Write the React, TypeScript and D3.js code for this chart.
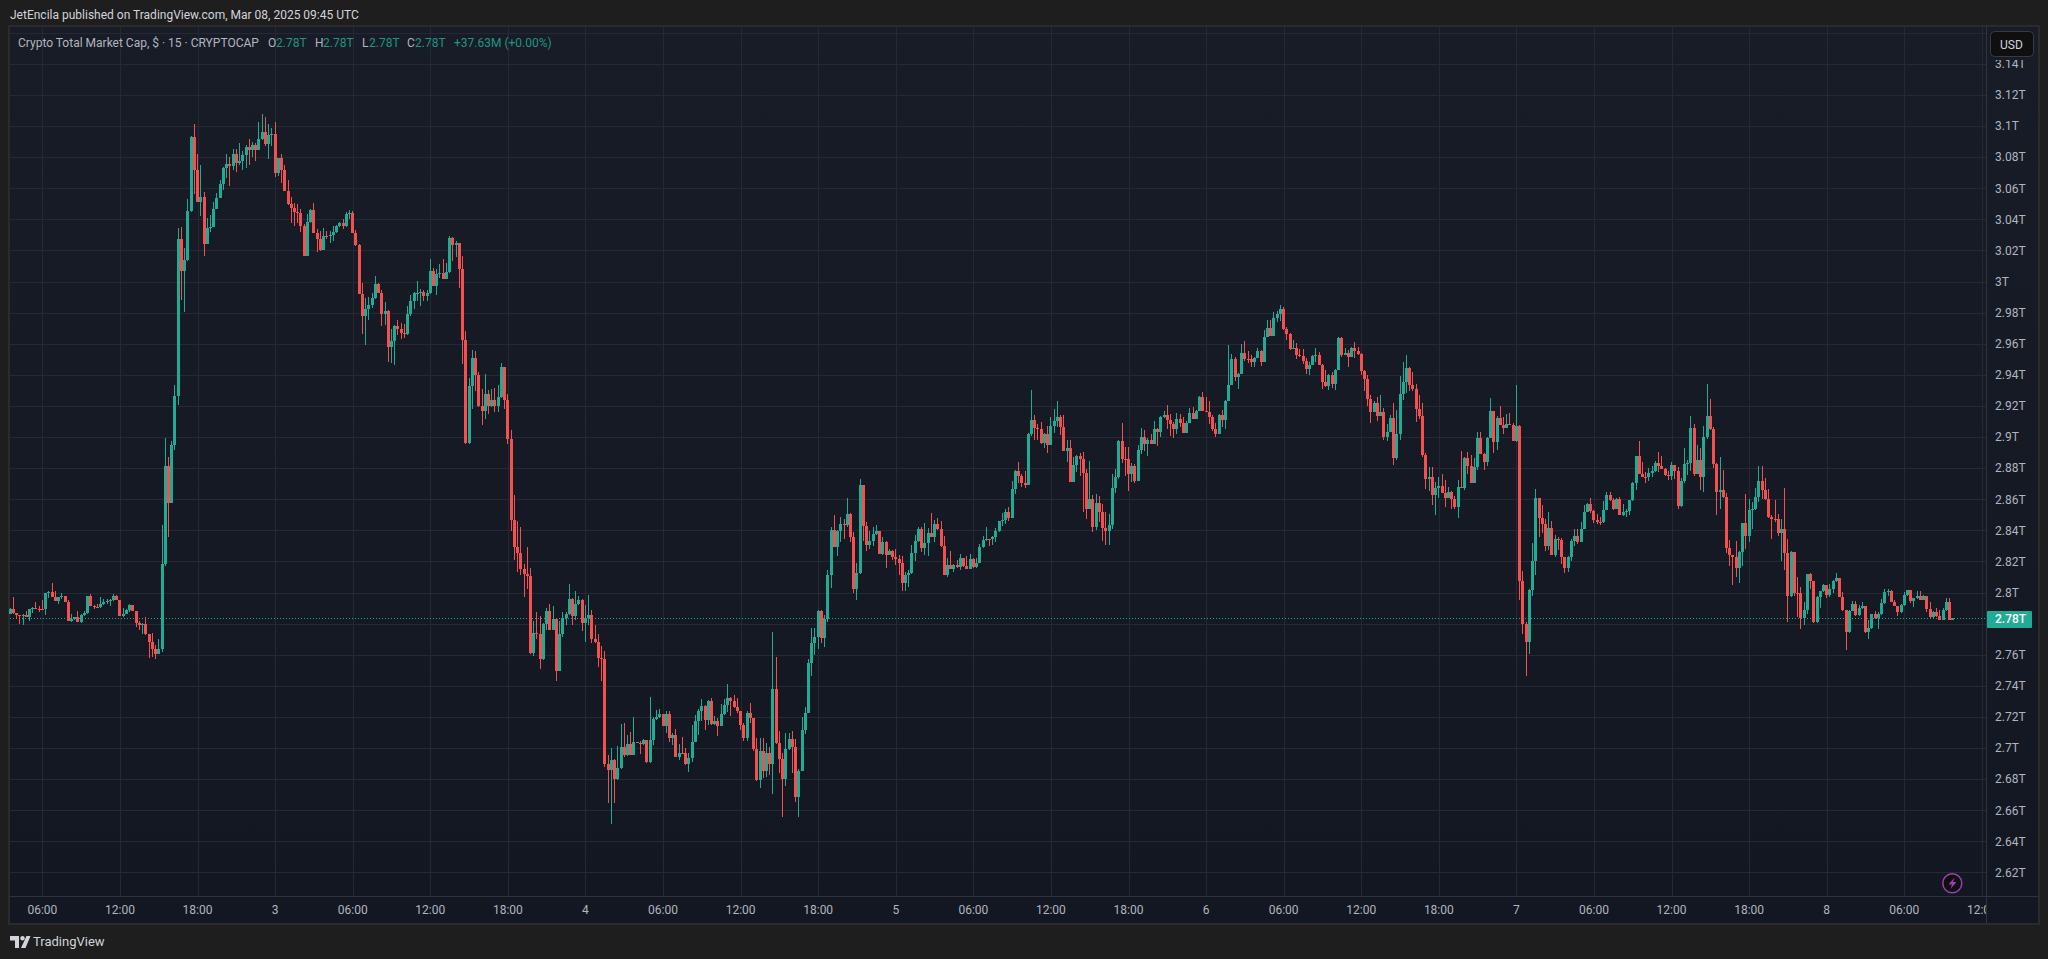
import * as d3 from 'd3';

// 15 minute candles, values in billions of USD. Each candle opens on the close before it.
const firstOpen = 2786.4;
const firstBarTime = Date.UTC(2025, 2, 2, 3, 30);
const barMs = 15 * 60 * 1000;

const closes = [
  2789.7, 2786.9, 2785.5, 2785.1, 2785.7, 2784, 2789.2, 2790.1, 2789.6, 2789.5,
  2789.3, 2799.5, 2800.5, 2797, 2794.7, 2797, 2797.5, 2794.2, 2781.6, 2782.7,
  2784.3, 2781.3, 2785.7, 2786.6, 2797.5, 2791.2, 2790.9, 2790.8, 2792.4, 2794.2,
  2794.7, 2794.9, 2797.5, 2795.2, 2784.8, 2786.4, 2788.5, 2791.7, 2788, 2780.2,
  2778.8, 2780, 2773, 2768.4, 2763.4, 2760.4, 2763.8, 2818.2, 2881.1, 2857.8,
  2894.9, 2926.3, 3027.3, 3007, 3014, 3045.3, 3093, 3071.6, 3051.3, 3054.3,
  3024.3, 3034.7, 3035.2, 3046.7, 3053.8, 3062.4, 3072.7, 3075.7, 3074.1, 3081.7,
  3075.9, 3077.7, 3081.5, 3086.8, 3084.5, 3088, 3084.5, 3091.4, 3096.2, 3088.5,
  3094.3, 3094.6, 3069.5, 3079.1, 3071.6, 3058.4, 3049.7, 3047.1, 3044.8, 3044.3,
  3035.4, 3016.7, 3038.2, 3046.2, 3031.5, 3027.1, 3020.4, 3029.4, 3029.2, 3029.8,
  3031.7, 3035.4, 3037.7, 3035.7, 3043.5, 3044, 3031.4, 3023.6, 2992.1, 2977.5,
  2982.5, 2985, 2989.3, 2998.6, 2992.8, 2979.3, 2981, 2958, 2961.9, 2971.5,
  2969.6, 2967, 2966, 2979.3, 2987.4, 2992.6, 2992.8, 2993, 2990.8, 2992.8,
  3006.9, 2997.3, 3004.8, 3005.4, 3001.8, 3006, 3028.1, 3023.6, 3024.9, 3008.2,
  2962.1, 2896.3, 2933, 2950.8, 2940, 2919.9, 2916.9, 2927.6, 2919.7, 2923.7,
  2919.7, 2925.9, 2945, 2923.5, 2898.9, 2846.7, 2829, 2825.5, 2814.8, 2812.2,
  2810.3, 2761.2, 2773.9, 2773.4, 2757, 2780, 2787.9, 2776, 2783, 2749.6,
  2773.4, 2783.5, 2786, 2796, 2785.2, 2792.5, 2795.3, 2780.5, 2783.5, 2785.6,
  2769.8, 2768, 2757.6, 2757.5, 2689.4, 2685.7, 2692.5, 2680.3, 2687.2, 2700.6,
  2695.3, 2702.6, 2695.7, 2703.9, 2703.2, 2702.8, 2704.9, 2691, 2704.9, 2718.8,
  2719.9, 2722, 2714.2, 2721.7, 2706.5, 2708.2, 2694.3, 2697, 2696.6, 2689.5,
  2693.8, 2704.1, 2717.2, 2723.6, 2726.9, 2717.8, 2730.1, 2715.3, 2717.2, 2714.2,
  2722.1, 2727.5, 2732, 2730.5, 2726.2, 2723.6, 2714.8, 2706.3, 2722.8, 2719.1,
  2699.2, 2679.2, 2698.3, 2685.2, 2697, 2689.5, 2737.8, 2703.5, 2692.8, 2679.9,
  2699.6, 2706, 2700.5, 2668.3, 2685.5, 2711.8, 2722.8, 2754.5, 2767.4, 2771.3,
  2788, 2770.6, 2783.1, 2811.2, 2840.1, 2829.2, 2839.5, 2844, 2843.3, 2850.4,
  2835.6, 2802.1, 2812.4, 2869.1, 2842.7, 2830.5, 2833, 2837.5, 2839.5, 2824.7,
  2832.4, 2824, 2826.6, 2822.7, 2821.5, 2818.9, 2806, 2811.2, 2812.4, 2825.3,
  2833, 2840.8, 2828.5, 2831.7, 2838.2, 2836, 2844, 2840.8, 2829.8, 2811.2,
  2817.6, 2815, 2817.6, 2816.3, 2822.1, 2816.9, 2815, 2821.5, 2816.3, 2819.1,
  2829.2, 2833.8, 2834.4, 2834.2, 2835.7, 2839.4, 2845.8, 2846.4, 2851.6, 2847.9,
  2866.4, 2878.2, 2874.8, 2870.5, 2869.4, 2902.1, 2911.1, 2905.9, 2905.3, 2896.3,
  2902.1, 2895, 2907.2, 2910.5, 2913, 2906.6, 2891.1, 2893.1, 2871.1, 2882.1,
  2887.9, 2886, 2876.9, 2853.7, 2860.2, 2842.1, 2857.6, 2851.8, 2841.5, 2839.6,
  2843.4, 2867.3, 2874.4, 2897.6, 2886, 2885.9, 2876.3, 2881.5, 2871.8, 2891.8,
  2900.1, 2895.6, 2898.2, 2895.6, 2905.3, 2903.4, 2913, 2914.3, 2910.9, 2908.5,
  2905.3, 2911.7, 2909.2, 2902.7, 2909.2, 2915.6, 2911.7, 2916.9, 2925.9, 2916.9,
  2916.3, 2913, 2905.3, 2902.1, 2914.3, 2911.1, 2923.3, 2933.7, 2950.4, 2938.8,
  2940.5, 2954.3, 2950.2, 2950, 2948.5, 2951.1, 2955.6, 2948.5, 2964.6, 2970.4,
  2965.2, 2976.8, 2979.4, 2982, 2969.7, 2966.5, 2956.9, 2957.5, 2953, 2952.1,
  2949.1, 2943.5, 2946.5, 2952.3, 2953, 2946.5, 2935.6, 2933, 2940.1, 2934.3,
  2943.3, 2963.9, 2953, 2954.3, 2951.7, 2957.5, 2955.6, 2953.6, 2942.7, 2937.5,
  2924.6, 2916.3, 2922.1, 2913.7, 2916.3, 2900.1, 2903.2, 2912.2, 2886.6, 2902.1,
  2927.9, 2935.6, 2944.6, 2933.7, 2930.9, 2918.2, 2913.7, 2888.5, 2873.1, 2874.4,
  2862.8, 2867.1, 2868.6, 2864.1, 2860.8, 2864.7, 2860.2, 2855, 2867.9, 2867.5,
  2886.6, 2881.5, 2870.5, 2880.8, 2899.5, 2889.2, 2884, 2899.5, 2916.9, 2896.9,
  2912.4, 2907.9, 2905.9, 2908.5, 2907.9, 2897.6, 2907.2, 2807.3, 2779.6, 2768,
  2801.6, 2820.2, 2860.8, 2847.9, 2844.1, 2829.9, 2841.5, 2824.1, 2834.4, 2833.8,
  2822.8, 2815.7, 2822.8, 2833.1, 2836.3, 2832.5, 2840.9, 2851.8, 2857, 2852.5,
  2846.7, 2845.4, 2845.2, 2853.1, 2862.8, 2859.5, 2853.7, 2860.2, 2849.9, 2851.8,
  2852.4, 2859.3, 2870.2, 2887.6, 2876.3, 2874.3, 2874.1, 2876.9, 2878.2, 2883.3,
  2881.4, 2879.5, 2875.4, 2875.1, 2882.1, 2878.2, 2855.6, 2871.7, 2882.7, 2883.3,
  2905.9, 2876.3, 2885.3, 2874.3, 2900.1, 2913.6, 2905, 2882.7, 2864.7, 2865.9,
  2861.4, 2828.6, 2824.1, 2822.8, 2815.7, 2826, 2844.7, 2836.3, 2853.1, 2853.5,
  2861.4, 2871.7, 2865.9, 2860.1, 2848.5, 2847.3, 2847, 2838.2, 2840.8, 2825.3,
  2797.6, 2826, 2799.6, 2799.5, 2783.5, 2788.6, 2811.6, 2807.3, 2780.9, 2797,
  2800.9, 2804.7, 2798.3, 2802.1, 2807.3, 2809.2, 2797, 2788.6, 2774.4, 2788,
  2792.5, 2785.4, 2789.9, 2791.2, 2774.4, 2777, 2786, 2783.5, 2786, 2793.1,
  2800.2, 2800.9, 2793.8, 2791.2, 2787.3, 2791.8, 2798.3, 2801.5, 2794.4, 2796.3,
  2797.6, 2795.1, 2797.6, 2789.3, 2784.1, 2787.3, 2784.7, 2782.2, 2788.6, 2793.8,
  2782.2, 2783.3,
];

const highs = [
  2790, 2797, 2787, 2785.5, 2786, 2788, 2789.5, 2790.5, 2794.2, 2791.5,
  2794.9, 2799.7, 2801, 2805.8, 2800.7, 2797.2, 2799.5, 2797.7, 2795, 2786.4,
  2784.5, 2787.8, 2785.9, 2787.8, 2797.7, 2798.8, 2792, 2792.9, 2797, 2795.6,
  2795.6, 2795.6, 2798.8, 2798.4, 2795.4, 2790.3, 2789.6, 2792.4, 2791.9, 2788.2,
  2781.8, 2780.4, 2784.1, 2773.4, 2774.2, 2766.1, 2769.8, 2843.3, 2899.3, 2887.1,
  2897.2, 2933.6, 3034.7, 3035.2, 3021.8, 3053.1, 3093.5, 3101, 3081.7, 3075,
  3057.3, 3041.1, 3042.8, 3051.3, 3056.6, 3065.1, 3073.4, 3081.7, 3079.9, 3084.9,
  3085.4, 3088.8, 3084.2, 3088, 3091.4, 3089.8, 3088.9, 3102.7, 3108, 3105.7,
  3101, 3098.5, 3102.4, 3079.3, 3081.7, 3075, 3065.1, 3054.5, 3050.4, 3049.7,
  3046.9, 3037.2, 3043.7, 3046.4, 3050.8, 3033.8, 3032.6, 3034.4, 3032.4, 3032.4,
  3035.8, 3036.6, 3038, 3040, 3045, 3046, 3045.5, 3033.3, 3024, 2999,
  2989.6, 2989.9, 2992.8, 3003.5, 2999.2, 2994.7, 2986.8, 2981.8, 2969.6, 2971.8,
  2975.2, 2973.5, 2972.8, 2984.2, 2991.5, 2993.2, 3000.3, 2995.3, 2994.7, 2994.3,
  3014.6, 3008.6, 3008.2, 3011.4, 3014.6, 3012.1, 3029.2, 3028.8, 3026.2, 3025,
  3016.6, 2968.3, 2938.1, 2956.1, 2955.3, 2941.7, 2931, 2940.7, 2930.4, 2931,
  2931.7, 2933.6, 2947.5, 2945.2, 2927.6, 2904.7, 2862.8, 2846.1, 2842, 2818.5,
  2829.4, 2815.7, 2781.8, 2787.4, 2784.8, 2780.6, 2790, 2792.7, 2791.2, 2783.2,
  2781.8, 2787.4, 2787.4, 2805.6, 2796.2, 2800.9, 2797.7, 2795.5, 2792.1, 2798.5,
  2788.9, 2779.2, 2773.4, 2765.7, 2762.6, 2695.3, 2700, 2692.7, 2701.3, 2715.6,
  2716.3, 2708.6, 2710.3, 2719.9, 2704, 2704.3, 2705.6, 2705, 2732.7, 2720,
  2724.2, 2725.2, 2722, 2723.9, 2723.6, 2709.9, 2712.5, 2702.4, 2707.3, 2700.3,
  2697, 2714.6, 2721.5, 2724.9, 2731.4, 2727.5, 2730.9, 2732, 2720.4, 2719.6,
  2728.1, 2731.4, 2741, 2733.1, 2733.9, 2732, 2724, 2715.9, 2723.6, 2728.8,
  2719.5, 2706.3, 2706.7, 2706.3, 2703.5, 2700.9, 2774.5, 2758.2, 2710.8, 2696.6,
  2709.5, 2709.9, 2710.8, 2706, 2686.3, 2719.8, 2726.2, 2757.5, 2777, 2777,
  2788.6, 2788.6, 2785.4, 2814.4, 2842, 2849.8, 2840.1, 2848.5, 2847.2, 2860.7,
  2851, 2838.6, 2818.9, 2872.9, 2869.3, 2845.3, 2839.5, 2842, 2843.3, 2839.7,
  2835.6, 2833, 2827.9, 2827.2, 2827.9, 2824, 2823.4, 2813.1, 2814.4, 2830.5,
  2836.9, 2842, 2842, 2844.6, 2841.4, 2851, 2846.5, 2847.8, 2845.9, 2836.3,
  2822.1, 2826.6, 2818.2, 2820.8, 2824.7, 2822.3, 2823.4, 2824.7, 2822.1, 2822.1,
  2831.1, 2836.1, 2841.9, 2834.5, 2836.3, 2841.5, 2846, 2851.2, 2853.7, 2854.8,
  2871.8, 2879, 2883.8, 2876.3, 2878, 2902.5, 2930.4, 2914.3, 2908.3, 2909.6,
  2902.5, 2907.2, 2913, 2918.2, 2923.3, 2914.3, 2914.3, 2898.2, 2898.2, 2887,
  2888.5, 2889.8, 2890.5, 2879.5, 2884.5, 2862.8, 2863.4, 2862.1, 2857, 2851.8,
  2850.5, 2876.3, 2879.5, 2898.2, 2909.2, 2893.7, 2893.7, 2883.4, 2882.7, 2895,
  2905.7, 2904.7, 2899.5, 2902.1, 2910.5, 2905.9, 2913.2, 2916.9, 2920.8, 2915,
  2909.8, 2915.6, 2915, 2913, 2910.5, 2918.8, 2919.5, 2917.5, 2926.6, 2929.1,
  2925.9, 2923.3, 2914.3, 2909.2, 2914.6, 2917.5, 2924, 2959.4, 2953.6, 2951.7,
  2941, 2960.1, 2962, 2955.6, 2953, 2951.7, 2957.5, 2955.8, 2968.5, 2975.5,
  2975.5, 2980.7, 2981.3, 2984.6, 2983.3, 2971, 2966.7, 2962.7, 2960.7, 2956.9,
  2956.9, 2951.1, 2948.5, 2953, 2957.5, 2954.9, 2947, 2943.3, 2940.3, 2942,
  2943.5, 2964.2, 2964.2, 2957.5, 2956.2, 2958.1, 2961.4, 2958.1, 2954, 2943,
  2940.1, 2927.2, 2923.3, 2925.9, 2927.2, 2918.8, 2908.5, 2914.3, 2922.1, 2917.5,
  2939.5, 2948.5, 2953, 2944.8, 2942, 2934.3, 2927.2, 2922.1, 2889.8, 2880.8,
  2880.8, 2871.1, 2874.4, 2876.3, 2872.4, 2867.9, 2865.3, 2862.1, 2872.4, 2891.1,
  2887, 2890.5, 2888.5, 2886.6, 2903.4, 2903.4, 2889.5, 2899.8, 2925.3, 2917,
  2913.7, 2920.1, 2913, 2915, 2915.6, 2909.2, 2933.7, 2907.8, 2813.8, 2781,
  2802.2, 2831.8, 2866.6, 2861, 2856.3, 2847.3, 2851.8, 2846, 2837, 2835.7,
  2835.1, 2823, 2823.5, 2834.4, 2840.9, 2840.9, 2845.4, 2856.3, 2857.3, 2860.8,
  2853, 2850.5, 2848.6, 2858.9, 2864.7, 2864.7, 2860.8, 2860.5, 2861.5, 2856.9,
  2853.7, 2859.5, 2870.8, 2888, 2897.5, 2884, 2877.5, 2880.1, 2881.4, 2884.6,
  2890.4, 2887.9, 2879.8, 2878.2, 2884, 2882.3, 2880.8, 2873.7, 2893, 2885.3,
  2913.6, 2908.5, 2894.9, 2893, 2907.2, 2934.3, 2924.6, 2906.5, 2883, 2887.2,
  2878.8, 2864, 2833.7, 2824.4, 2833.1, 2826.6, 2845, 2863.4, 2860.1, 2858.2,
  2867.2, 2881.4, 2881.4, 2873.7, 2866.6, 2849.8, 2859.5, 2850.5, 2847.3, 2867.2,
  2834.4, 2826.6, 2826.2, 2809.9, 2803.4, 2793.8, 2812, 2812.5, 2807.5, 2797.6,
  2801.2, 2805.4, 2805, 2805.4, 2807.9, 2812.5, 2809.5, 2800.2, 2788.8, 2788.6,
  2794.4, 2794.4, 2791.8, 2793.8, 2791.4, 2782.2, 2786.2, 2788, 2787.3, 2795.7,
  2802.1, 2802.1, 2801.5, 2795.1, 2791.4, 2792.5, 2800.2, 2801.8, 2801.7, 2796.6,
  2800.9, 2800.9, 2798.3, 2797.8, 2793.8, 2788, 2789.9, 2788.6, 2789.9, 2796.3,
  2796.3, 2783.4,
];

const lows = [
  2786, 2786, 2783, 2779.8, 2779.3, 2784, 2781.6, 2787, 2789.4, 2787.3,
  2789.1, 2785.7, 2796.5, 2797, 2794.5, 2792.6, 2796.1, 2794, 2781.4, 2781.3,
  2782, 2781.1, 2780.4, 2785, 2785.9, 2791, 2789.4, 2789.9, 2790.3, 2791.9,
  2792.6, 2791.2, 2794.7, 2795, 2784.6, 2784.1, 2786, 2787.6, 2787.8, 2778.1,
  2775.8, 2773.5, 2772.8, 2757.6, 2758.8, 2757.4, 2760.2, 2762, 2816.8, 2835.9,
  2857.6, 2891.9, 2920.4, 2988.4, 2980.6, 3013.5, 3045, 3056.1, 3051, 3042.3,
  3016.7, 3024, 3031.7, 3035, 3046.5, 3053.5, 3058.7, 3066.3, 3061.2, 3071.4,
  3070.5, 3075.2, 3071.6, 3073.1, 3074.9, 3080, 3077.4, 3084.3, 3091, 3087.3,
  3078.6, 3087.3, 3067.4, 3068, 3063.2, 3058, 3049.5, 3037.4, 3035.4, 3037.8,
  3032, 3016.5, 3016.5, 3037.9, 3031, 3019, 3019.5, 3020.2, 3027.1, 3025,
  3025.9, 3031, 3035, 3033.9, 3035, 3040, 3031, 3023, 2992, 2966.4,
  2959.3, 2975, 2983.1, 2989, 2992.6, 2971.1, 2972.2, 2948.2, 2947.7, 2946,
  2965.3, 2963.2, 2963.8, 2965.8, 2977.5, 2982.5, 2987.4, 2984.4, 2987.6, 2987.4,
  2992.2, 2997, 2991.5, 3002.2, 3001.5, 3001.5, 3005.6, 3013.4, 3015.7, 2996,
  2947.1, 2895.7, 2895.3, 2918.2, 2929.3, 2919.3, 2907.4, 2911.7, 2914.9, 2919.5,
  2915.8, 2915.8, 2925.3, 2918.2, 2895.6, 2839.3, 2820.6, 2813.5, 2811, 2797.4,
  2802.4, 2760.7, 2758.9, 2770.2, 2751, 2756.7, 2776.2, 2775.8, 2775.8, 2742.8,
  2749.2, 2771.1, 2779.4, 2785.5, 2778.8, 2782, 2792, 2775.4, 2768.1, 2779.2,
  2767.6, 2767.5, 2751.8, 2743.4, 2688, 2664.9, 2651.4, 2664.9, 2679.6, 2686.8,
  2694, 2695, 2695.4, 2695.4, 2703, 2696.4, 2702, 2690.6, 2690.6, 2702,
  2718, 2719, 2714, 2709.5, 2703.9, 2702, 2694, 2692.1, 2696, 2688.9,
  2684.6, 2691, 2703.8, 2708.2, 2717.4, 2711.4, 2714.8, 2715, 2715, 2707.8,
  2714, 2721.1, 2723.2, 2720.6, 2726, 2722.4, 2711.6, 2704.3, 2704.3, 2715.9,
  2697.9, 2678.6, 2674.1, 2680.5, 2681.4, 2682.4, 2670.2, 2702.4, 2683.7, 2655.4,
  2675.4, 2699, 2683.7, 2665, 2655.4, 2685, 2708.8, 2722.4, 2746.2, 2759.7,
  2763.5, 2767.4, 2764.8, 2780.9, 2802.8, 2829, 2823.4, 2832.4, 2834.3, 2842,
  2832.4, 2799.6, 2795.1, 2811.8, 2833, 2826.6, 2827.9, 2829.8, 2836.9, 2824.5,
  2824, 2815.7, 2823.8, 2820.8, 2817.6, 2811.2, 2800.9, 2800.9, 2803.4, 2811.8,
  2820.2, 2832.4, 2826, 2824, 2823.4, 2835.5, 2832.4, 2840.3, 2829.5, 2811,
  2809.9, 2814.8, 2813.1, 2816, 2814.4, 2816.6, 2814.8, 2814.8, 2816, 2816,
  2818.9, 2828.8, 2833.1, 2829.7, 2830.5, 2832.7, 2838.8, 2843, 2844.1, 2846.2,
  2847.6, 2863.4, 2870.5, 2867.9, 2867.3, 2869, 2900.8, 2898.2, 2898, 2895.6,
  2893.1, 2889.8, 2894.8, 2902.7, 2906.6, 2901.4, 2890.8, 2884, 2870.8, 2870.8,
  2877.6, 2875, 2851.8, 2847.3, 2853.4, 2838.9, 2840.2, 2845.4, 2833.1, 2830.5,
  2830.5, 2840.9, 2864.1, 2873.1, 2883.4, 2875, 2865.3, 2871.1, 2870.5, 2871.5,
  2889.2, 2891.1, 2887.9, 2895.3, 2895.3, 2894.3, 2900.1, 2912.4, 2905.3, 2900.8,
  2899.5, 2902.1, 2906.6, 2902.4, 2902.4, 2909, 2911.4, 2911.4, 2916.6, 2916.6,
  2916, 2908.5, 2904, 2900.1, 2901.9, 2906.6, 2905.3, 2923, 2933.3, 2936.2,
  2931.1, 2940.2, 2949.1, 2947.8, 2945.3, 2945.3, 2950.8, 2945.9, 2948.2, 2964,
  2965, 2965, 2974.2, 2974.9, 2969.1, 2962.7, 2956.2, 2956.6, 2950.4, 2951.6,
  2947.2, 2940.7, 2940.1, 2946.2, 2948.5, 2946.3, 2931.1, 2932.4, 2930.4, 2931.7,
  2930.4, 2943, 2951.7, 2952.6, 2945.3, 2951.4, 2951.1, 2953, 2940.1, 2929.8,
  2920.1, 2909.2, 2916, 2910.5, 2913.4, 2898.2, 2897.6, 2903, 2882.1, 2885.3,
  2898.2, 2924, 2928.5, 2929.8, 2929.8, 2909.8, 2911.7, 2887.3, 2866.6, 2865.3,
  2856.3, 2849.9, 2860.8, 2863.8, 2855, 2860.6, 2853.7, 2853.7, 2847.9, 2867.2,
  2866.2, 2876.3, 2870.2, 2870.2, 2878.9, 2889, 2878.9, 2881.5, 2899.2, 2889.8,
  2891.8, 2907.6, 2902.1, 2905.7, 2907.6, 2897.3, 2896.9, 2795.1, 2773.2, 2746.1,
  2760.3, 2797.7, 2811.2, 2835.7, 2838.3, 2826.7, 2827.3, 2823.8, 2822.8, 2827.3,
  2818.3, 2812.5, 2813.2, 2820.2, 2829.9, 2831.2, 2832.2, 2840.6, 2851.5, 2851.2,
  2844.7, 2844.1, 2843.4, 2845, 2852.8, 2858.9, 2853.1, 2853.4, 2849.6, 2849.2,
  2848.5, 2849.8, 2858.9, 2865.9, 2876, 2874, 2870.5, 2871.7, 2874.3, 2877.8,
  2877.5, 2879.2, 2875.1, 2872.4, 2872.4, 2873, 2853.7, 2855.3, 2870.5, 2875.6,
  2878.2, 2875, 2876, 2865.9, 2864.7, 2898.8, 2904.7, 2880.1, 2849.8, 2853.7,
  2861, 2825.3, 2817, 2804.7, 2809.9, 2806, 2817, 2827.9, 2832.4, 2840.8,
  2853.2, 2858.2, 2860.1, 2859.8, 2847.9, 2834.4, 2845.3, 2836.3, 2820.2, 2814.4,
  2780.9, 2797, 2797.6, 2784.1, 2776.4, 2778.9, 2786, 2802.1, 2780.7, 2780.7,
  2789.9, 2800.6, 2796.3, 2797, 2799.6, 2807, 2796.8, 2788.4, 2762.8, 2774.2,
  2787.8, 2784.7, 2785.2, 2789.7, 2774.2, 2769.9, 2776.8, 2783.2, 2776.4, 2785.8,
  2792.9, 2797.6, 2793.6, 2791, 2784.7, 2787.1, 2791.6, 2798, 2793.1, 2790.5,
  2796, 2794.9, 2794.9, 2787.3, 2783.9, 2783.9, 2784.5, 2782, 2782, 2788.4,
  2782, 2782.2,
];

const priceTicks = [
  3140, 3120, 3100, 3080, 3060, 3040, 3020, 3000, 2980, 2960, 2940, 2920, 2900, 2880,
  2860, 2840, 2820, 2800, 2780, 2760, 2740, 2720, 2700, 2680, 2660, 2640, 2620,
];
const gridOnlyPrice = 3160;
const lastPrice = 2783.3;

const timeTicks = d3.utcHour.range(Date.UTC(2025, 2, 2, 6), Date.UTC(2025, 2, 8, 13), 6).map(d => d.getTime());

const headerText = 'JetEncila published on TradingView.com, Mar 08, 2025 09:45 UTC';
const symbolText = 'Crypto Total Market Cap, $ · 15 · CRYPTOCAP';
const ohlcLabels = ['O', 'H', 'L', 'C'];
const ohlcValue = '2.78T';
const changeText = '+37.63M (+0.00%)';

const TEAL = '#22ab94';
const RED = '#f45050';
const GRID = '#252934';
const AXIS_LINE = '#2f333e';
const LABEL = '#b2b5be';
const FONT = 'Roboto, sans-serif';

const width = 2048;
const height = 959;
const pane = { left: 10, top: 27, right: 1986, bottom: 896, outerRight: 2038, outerBottom: 923 };

const x = d3
  .scaleUtc()
  .domain([Date.UTC(2025, 2, 2, 6), Date.UTC(2025, 2, 8, 6)])
  .range([42.4, 1904.3]);
const y = d3.scaleLinear().domain([2620, 3100]).range([872.4, 126]);

const formatPrice = (v: number) => `${+(v / 1000).toFixed(2)}T`;
const formatTime = (t: number) => {
  const d = new Date(t);
  return d.getUTCHours() === 0 ? String(d.getUTCDate()) : d3.utcFormat('%H:%M')(d);
};

const candles = closes.map((close, i) => ({
  time: firstBarTime + i * barMs,
  open: i === 0 ? firstOpen : closes[i - 1],
  close,
  high: highs[i],
  low: lows[i],
}));

function Candle({ c }: { c: (typeof candles)[number] }) {
  const cx = x(c.time);
  const color = c.close >= c.open ? TEAL : RED;
  const top = Math.round(y(Math.max(c.open, c.close)));
  const bottom = Math.round(y(Math.min(c.open, c.close)));
  return (
    <g fill={color}>
      <rect
        x={Math.round(cx - 0.5)}
        y={Math.round(y(c.high))}
        width={1}
        height={Math.max(1, Math.round(y(c.low)) - Math.round(y(c.high)))}
      />
      <rect x={Math.round(cx - 1.5)} y={top} width={3} height={Math.max(1, bottom - top)} />
    </g>
  );
}

export default function App() {
  return (
    <svg
      width={width}
      height={height}
      viewBox={`0 0 ${width} ${height}`}
      style={{ position: 'fixed', left: 0, top: 0, display: 'block' }}
      fontFamily={FONT}
    >
      <defs>
        <linearGradient id="paneBg" x1="0" y1="0" x2="0" y2="1">
          <stop offset="0%" stopColor="#181c27" />
          <stop offset="100%" stopColor="#131722" />
        </linearGradient>
        <clipPath id="timeClip">
          <rect x={pane.left} y={pane.bottom} width={pane.right - pane.left} height={pane.outerBottom - pane.bottom} />
        </clipPath>
        <clipPath id="priceClip">
          <rect x={pane.right} y={60} width={pane.outerRight - pane.right} height={pane.bottom - 60} />
        </clipPath>
      </defs>

      <rect width={width} height={height} fill="#1e1e1e" />
      <text x={10} y={19} fill="#d1d4dc" fontSize={12}>
        {headerText}
      </text>

      <rect
        x={pane.left - 1}
        y={pane.top - 1}
        width={pane.outerRight - pane.left + 2}
        height={pane.outerBottom - pane.top + 2}
        fill="url(#paneBg)"
        stroke="#2b2b2b"
        strokeWidth={2}
      />

      {/* grid */}
      {[gridOnlyPrice, ...priceTicks].map(p => (
        <line key={p} x1={pane.left} x2={pane.right} y1={Math.round(y(p)) + 0.5} y2={Math.round(y(p)) + 0.5} stroke={GRID} />
      ))}
      {timeTicks.map(t => (
        <line key={t} x1={Math.round(x(t)) + 0.5} x2={Math.round(x(t)) + 0.5} y1={pane.top} y2={pane.bottom} stroke={GRID} />
      ))}

      {/* last price line */}
      <line
        x1={pane.left}
        x2={pane.right}
        y1={Math.round(y(lastPrice)) + 0.5}
        y2={Math.round(y(lastPrice)) + 0.5}
        stroke={TEAL}
        strokeDasharray="1 2"
      />

      <g shapeRendering="crispEdges">
        {candles.map(c => (
          <Candle key={c.time} c={c} />
        ))}
      </g>

      {/* axes */}
      <line x1={pane.left} x2={pane.outerRight} y1={pane.bottom + 0.5} y2={pane.bottom + 0.5} stroke={AXIS_LINE} />
      <line x1={pane.right + 0.5} x2={pane.right + 0.5} y1={pane.top} y2={pane.outerBottom} stroke={AXIS_LINE} />

      <g fill={LABEL} fontSize={12}>
        <g clipPath="url(#priceClip)">
          {priceTicks.map(p => (
            <text key={p} x={1995} y={y(p)} dy="0.36em">
              {formatPrice(p)}
            </text>
          ))}
        </g>
        <g clipPath="url(#timeClip)" textAnchor="middle">
          {timeTicks.map(t => (
            <text key={t} x={x(t)} y={910} dy="0.36em">
              {formatTime(t)}
            </text>
          ))}
        </g>
      </g>

      {/* USD button */}
      <rect x={1990.5} y={31.5} width={43} height={25} rx={4} fill="#0f0f0f" stroke="#363a45" />
      <text x={2000} y={45} dy="0.36em" fill="#d1d4dc" fontSize={12}>
        USD
      </text>

      {/* last price label */}
      <rect x={1987} y={611} width={45} height={17} rx={1} fill={TEAL} />
      <text x={1995} y={y(lastPrice)} dy="0.36em" fill="#ffffff" fontSize={12} fontWeight={500}>
        {formatPrice(lastPrice)}
      </text>

      {/* legend */}
      <g fontSize={12}>
        <text x={18} y={47} fill={LABEL}>
          {symbolText}
        </text>
        {ohlcLabels.map((label, i) => (
          <g key={label}>
            <text x={[268, 315, 362, 407][i]} y={47} fill={LABEL}>
              {label}
            </text>
            <text x={[276, 323, 369, 415][i]} y={47} fill="#1f9583">
              {ohlcValue}
            </text>
          </g>
        ))}
        <text x={454} y={47} fill="#1f9583">
          {changeText}
        </text>
      </g>

      {/* lightning badge */}
      <circle cx={1952.3} cy={883.3} r={9.5} fill="#0f0f0f" stroke="#9c3fb0" strokeWidth={1.5} />
      <path d="M1954.5 877.5 L1948.5 884.5 L1952 884.5 L1950.5 889 L1956.5 882 L1953 882 Z" fill="#9c3fb0" />

      {/* footer logo */}
      <g fill="#d1d4dc">
        <path d="M10 936 H19 V948 H15 V940.5 H10 Z" />
        <circle cx={22.5} cy={938.3} r={2.2} />
        <path d="M26.5 936 H30.5 L25.5 948 H21 Z" />
      </g>
      <text x={33} y={946} fill="#d1d4dc" fontSize={13}>
        TradingView
      </text>
    </svg>
  );
}
